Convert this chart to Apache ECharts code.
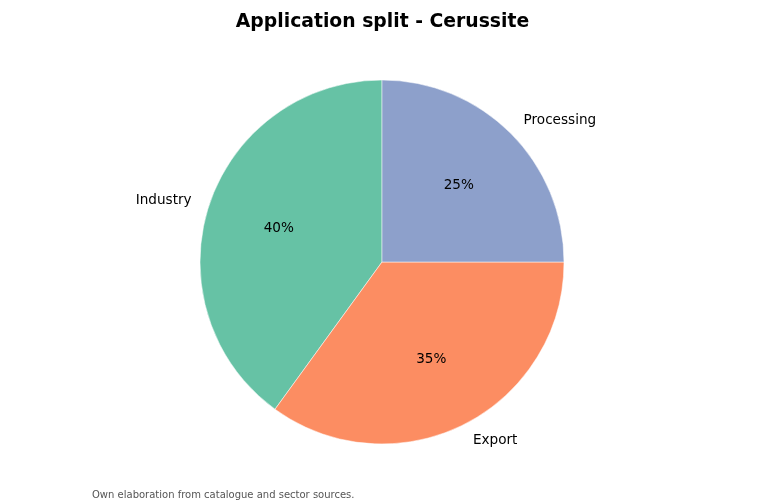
<!DOCTYPE html>
<html>
<head>
<meta charset="utf-8">
<script src="https://cdn.jsdelivr.net/npm/echarts@6/dist/echarts.min.js"></script>
<style>
  html, body { margin: 0; padding: 0; background: #fff; }
  #chart { width: 765px; height: 503px; }
</style>
</head>
<body>
<div id="chart"></div>
<script>
// data
var categories = ['Industry', 'Export', 'Processing'];
var shares = [40, 35, 25];
var colors = ['#66c2a5', '#fc8d62', '#8da0cb'];

var R = 182;
var font = 'DejaVu Sans';

var pieData = categories.map(function (name, i) {
    return { name: name, value: shares[i], itemStyle: { color: colors[i] } };
});

var chart = echarts.init(document.getElementById('chart'));

var option = {
    animation: false,
    title: [{
        text: 'Application split - Cerussite',
        left: 'center',
        top: 13,
        padding: 0,
        textStyle: { fontFamily: font, fontSize: 18.8, fontWeight: 'bold', color: '#000' }
    }, {
        text: 'Own elaboration from catalogue and sector sources.',
        left: 92,
        top: 490,
        padding: 0,
        textStyle: { fontFamily: font, fontSize: 10, fontWeight: 'normal', color: '#555' }
    }],
    series: [
        {
            // slices + outer names
            type: 'pie',
            center: [382, 262],
            radius: [0, R],
            startAngle: 90,
            clockwise: false,
            silent: true,
            avoidLabelOverlap: false,
            itemStyle: { borderColor: '#fff', borderWidth: 0.5 },
            label: {
                show: true,
                position: 'outside',
                formatter: '{b}',
                fontFamily: font,
                fontSize: 13.6,
                color: '#000',
                distanceToLabelLine: 0
            },
            labelLine: { show: false, length: R * 0.1, length2: 0 },
            data: pieData
        },
        {
            // percentage labels near 0.6 r
            type: 'pie',
            center: [382, 262.5],
            radius: [R * 0.16, R],
            startAngle: 90,
            clockwise: false,
            silent: true,
            itemStyle: { color: 'transparent' },
            label: {
                show: true,
                position: 'inside',
                formatter: function (p) { return Math.round(p.percent) + '%'; },
                fontFamily: font,
                fontSize: 13.6,
                color: '#000'
            },
            labelLine: { show: false },
            data: categories.map(function (name, i) {
                return { name: name, value: shares[i] };
            })
        }
    ]
};

chart.setOption(option);
</script>
</body>
</html>
